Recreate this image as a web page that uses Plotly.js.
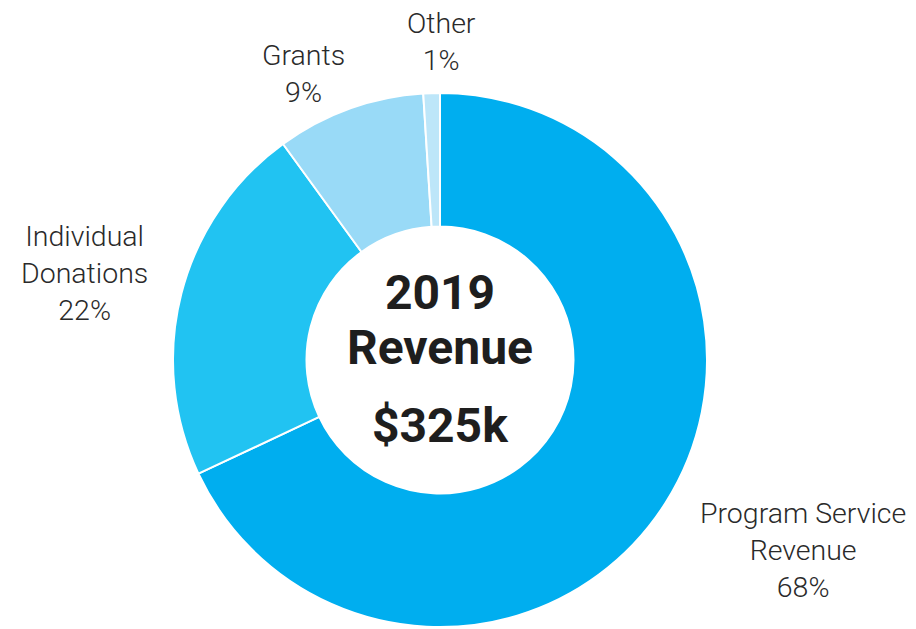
<!DOCTYPE html>
<html>
<head>
<meta charset="utf-8">
<script src="https://cdn.plot.ly/plotly-3.0.1.min.js"></script>
<style>html,body{margin:0;padding:0;background:#fff;}#chart{width:916px;height:629px;}</style>
</head>
<body>
<div id="chart"></div>
<script>
const categories = ["Program Service Revenue", "Individual Donations", "Grants", "Other"];
const shares = [68, 22, 9, 1];
const labelTexts = ["Program Service<br>Revenue<br>68%", "Individual<br>Donations<br>22%", "Grants<br>9%", "Other<br>1%"];
const sliceColors = ["#00AEEF", "#21C3F2", "#99DAF7", "#BDE6F9"];
const centerTitle = ["2019", "Revenue", "$325k"];

const W = 916, H = 629;
const labelPos = [[803, 550], [84, 273], [303, 74], [441, 42]];
const px = (x) => x / W, py = (y) => 1 - y / H;

const annotations = labelTexts.map((t, i) => ({
  text: t, xref: 'paper', yref: 'paper',
  x: px(labelPos[i][0]), y: py(labelPos[i][1]),
  xanchor: 'center', yanchor: 'middle', showarrow: false, align: 'center',
  font: {family: 'Roboto, Liberation Sans, sans-serif', size: 28.5, color: '#2a2a2a', weight: 300}
}));
const centerY = [292, 347, 425];
centerTitle.forEach((t, i) => annotations.push({
  text: '<b>' + t + '</b>', xref: 'paper', yref: 'paper',
  x: px(440), y: py(centerY[i]), xanchor: 'center', yanchor: 'middle', showarrow: false,
  font: {family: 'Roboto, Liberation Sans, sans-serif', size: 48, color: '#1e1e1e', weight: 900}
}));

Plotly.newPlot('chart', [{
  type: 'pie',
  labels: categories,
  values: shares,
  hole: 0.5,
  sort: false,
  direction: 'clockwise',
  rotation: 0,
  textinfo: 'none',
  hoverinfo: 'label+percent',
  marker: {colors: sliceColors, line: {color: '#ffffff', width: 2}},
  domain: {x: [(440 - 267) / W, (440 + 267) / W], y: [(269 - 267) / H, (269 + 267) / H]}
}], {
  width: W, height: H,
  margin: {l: 0, r: 0, t: 0, b: 0},
  paper_bgcolor: '#ffffff',
  showlegend: false,
  annotations: annotations
}, {displayModeBar: false, staticPlot: true});
</script>
</body>
</html>
